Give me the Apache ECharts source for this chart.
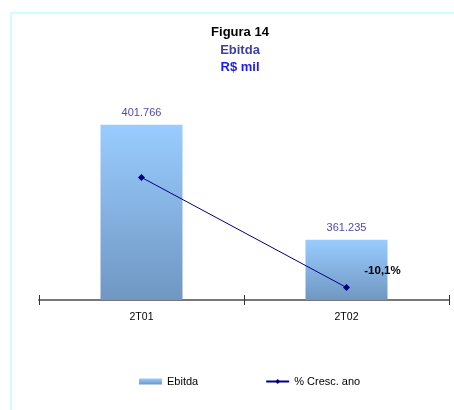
<!DOCTYPE html>
<html>
<head>
<meta charset="utf-8">
<script src="https://cdn.jsdelivr.net/npm/echarts@6/dist/echarts.min.js"></script>
<style>html,body{margin:0;padding:0;background:#fff}#c{width:454px;height:410px}</style>
</head>
<body>
<div id="c"></div>
<script>
var categories = ['2T01', '2T02'];
var ebitda = [401766, 361235];
var cresc = [-0.4, -10.1];
var cresLabels = ['', '-10,1%'];

function fmtThousands(v) {
  return String(v).replace(/\B(?=(\d{3})+(?!\d))/g, '.');
}

var chart = echarts.init(document.getElementById('c'), null, {renderer: 'canvas'});
var font = 'Liberation Sans, Arial, sans-serif';
chart.setOption({
  animation: false,
  backgroundColor: '#fff',
  graphic: [{
    type: 'rect', silent: true, z: -1,
    shape: {x: 11, y: 13, width: 600, height: 600},
    style: {fill: 'none', stroke: '#ccffff', lineWidth: 2}
  }],
  title: [
    {text: 'Figura 14', left: 240, top: 26, textAlign: 'center', padding: 0,
     textStyle: {fontFamily: font, fontSize: 13, fontWeight: 'bold', color: '#000'}},
    {text: 'Ebitda', left: 240, top: 44, textAlign: 'center', padding: 0,
     textStyle: {fontFamily: font, fontSize: 13, fontWeight: 'bold', color: '#3f3f9f'}},
    {text: 'R$ mil', left: 240, top: 61, textAlign: 'center', padding: 0,
     textStyle: {fontFamily: font, fontSize: 13, fontWeight: 'bold', color: '#1a1aff'}}
  ],
  legend: {
    left: 139, top: 376, itemGap: 67, itemWidth: 23, itemHeight: 6, padding: 0,
    textStyle: {fontFamily: font, fontSize: 11, color: '#000'},
    data: [{name: 'Ebitda', icon: 'rect'}, {name: '% Cresc. ano'}]
  },
  grid: {left: 39, right: 5, top: 73, bottom: 110, containLabel: false},
  xAxis: [{
    type: 'category', data: categories, position: 'bottom',
    axisLine: {onZero: false, lineStyle: {color: '#777', width: 2}},
    axisTick: {show: true, length: 5, lineStyle: {color: '#333', width: 1}},
    axisLabel: {fontFamily: font, fontSize: 10.5, color: '#000', margin: 12},
    splitLine: {show: false}
  }, {
    type: 'category', data: categories, position: 'bottom',
    axisLine: {show: false, onZero: false},
    axisTick: {show: true, inside: true, length: 5, lineStyle: {color: '#333', width: 1}},
    axisLabel: {show: false}
  }],
  yAxis: [
    {type: 'value', min: 340000, max: 420000, show: false, splitLine: {show: false}},
    {type: 'value', min: -11.2, max: 8.8, show: false, splitLine: {show: false}}
  ],
  series: [{
    name: 'Ebitda', type: 'bar', data: ebitda, barWidth: 82, z: 2,
    itemStyle: {
      color: new echarts.graphic.LinearGradient(0, 0, 0, 1, [
        {offset: 0, color: '#99ccff'}, {offset: 1, color: '#7097c2'}
      ])
    },
    label: {
      show: true, position: 'top', distance: 6,
      fontFamily: font, fontSize: 11, color: '#4d4dab',
      formatter: function (p) { return fmtThousands(p.value); }
    }
  }, {
    name: '% Cresc. ano', type: 'line', yAxisIndex: 1, data: cresc, z: 5,
    symbol: 'diamond', symbolSize: 7,
    lineStyle: {color: '#000080', width: 1},
    itemStyle: {color: '#000080'},
    label: {
      show: true, position: 'top', distance: 5, offset: [36, -2],
      fontFamily: font, fontSize: 11.5, fontWeight: 'bold', color: '#000',
      formatter: function (p) { return cresLabels[p.dataIndex]; }
    }
  }]
});
</script>
</body>
</html>
